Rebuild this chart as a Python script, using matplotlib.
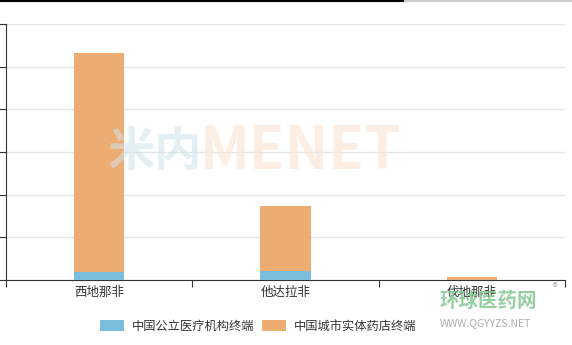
import matplotlib.pyplot as plt
import numpy as np

plt.rcParams['font.family'] = ['Noto Sans CJK SC', 'DejaVu Sans']

# drugs and sales (one grid step = 1 unit; axis labels are cropped in the source)
drugs = ['西地那非', '他达拉非', '伐地那非']
public_hospital = [0.18, 0.20, 0.0]
city_pharmacy = [5.14, 1.54, 0.08]
series_names = ['中国公立医疗机构终端', '中国城市实体药店终端']

blue = '#7bbedc'
orange = '#edac72'

fig = plt.figure(figsize=(5.72, 3.45), dpi=100)
ax = fig.add_axes([6 / 572, 1 - 280 / 345, 559 / 572, 256 / 345])

x = np.arange(len(drugs))
w = 0.27
ax.bar(x, public_hospital, w, color=blue, zorder=3, label=series_names[0])
ax.bar(x, city_pharmacy, w, bottom=public_hospital, color=orange, zorder=3,
       label=series_names[1])

ax.set_xlim(-0.5, 2.5)
ax.set_ylim(0, 6)
ax.set_yticks(range(7))
ax.set_yticklabels([])
ax.grid(axis='y', color='#e6e6e6', linewidth=1, zorder=0)
ax.set_xticks([-0.5, 0.5, 1.5, 2.5], minor=False)
ax.set_xticklabels([])
ax.set_xticks(x, minor=True)
ax.set_xticklabels(drugs, minor=True, fontsize=9, color='#333333')
ax.tick_params(axis='x', which='minor', length=0, pad=4)
ax.tick_params(axis='x', which='major', length=5, color='#333333')
ax.tick_params(axis='y', length=5, color='#333333')
for s in ['top', 'right']:
    ax.spines[s].set_visible(False)
ax.spines['left'].set_color('#333333')
ax.spines['bottom'].set_color('#333333')

# top border line of the screenshot
fig.add_artist(plt.Line2D([0, 405 / 572], [0.998, 0.998], color='black', lw=1.5))
fig.add_artist(plt.Line2D([405 / 572, 1], [0.998, 0.998], color='#cccccc', lw=1.5))

# watermarks
fig.text(108 / 572, 1 - 152 / 345, '米内', fontsize=34, fontweight='bold',
         color='#cfe3ec', alpha=0.55, va='center', ha='left')
fig.text(200 / 572, 1 - 152 / 345, 'MENET', fontsize=42, fontweight='bold',
         color='#fbe3cf', alpha=0.6, va='center', ha='left')
fig.text(440 / 572, 1 - 301 / 345, '环球医药网', fontsize=14, fontweight='bold',
         color='#7cc38a', alpha=0.8, va='center', ha='left')
fig.text(553 / 572, 1 - 288 / 345, '®', fontsize=7, color='#aaaaaa', va='center')
fig.text(440 / 572, 1 - 323 / 345, 'WWW.QGYYZS.NET', fontsize=7.5,
         color='#999999', alpha=0.8, va='center', ha='left')

fig.legend(loc='center', bbox_to_anchor=(258 / 572, 1 - 326 / 345), ncol=2,
           frameon=False, fontsize=8.8, handlelength=2.0, handleheight=1.0,
           columnspacing=0.6, handletextpad=0.6, labelcolor='#333333')

fig.savefig('out.png', dpi=100)
